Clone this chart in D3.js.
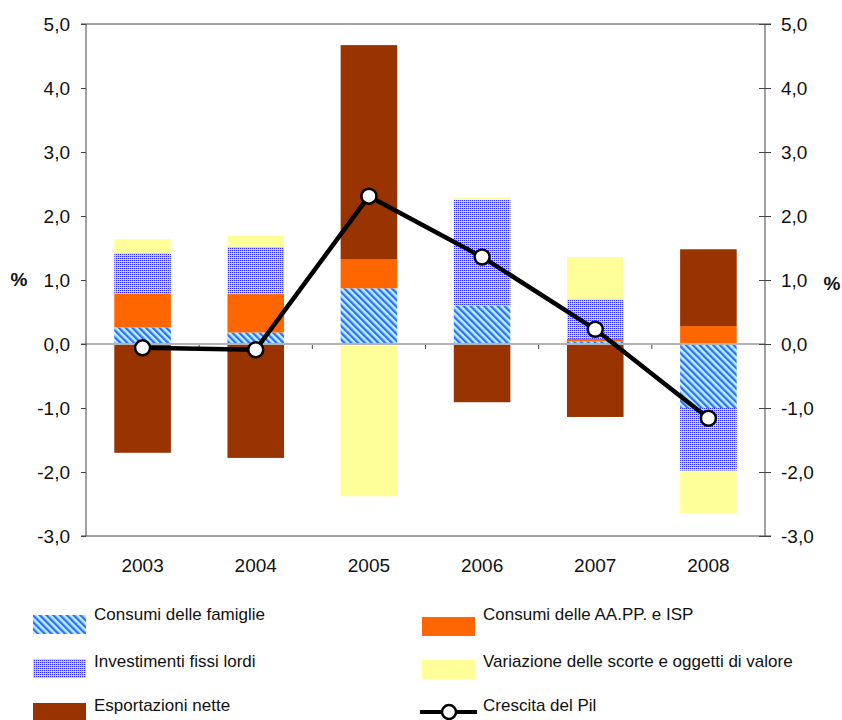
<!DOCTYPE html>
<html><head><meta charset="utf-8">
<script src="https://cdn.jsdelivr.net/npm/d3@7"></script>
<style>body{margin:0;background:#fff}svg{display:block;font-family:Arial,"Liberation Sans",sans-serif}</style>
</head><body>
<svg id="c" width="842" height="720"></svg>
<script>
const years = ["2003","2004","2005","2006","2007","2008"];
const famiglie = [0.26, 0.18, 0.87, 0.60, 0.04, -1.00];
const aapp = [0.53, 0.60, 0.45, 0.00, 0.04, 0.28];
const investimenti = [0.63, 0.74, -0.02, 1.65, 0.62, -0.98];
const scorte = [0.22, 0.17, -2.36, 0.04, 0.66, -0.67];
const esportazioni = [-1.70, -1.78, 3.35, -0.91, -1.14, 1.20];
const pil = [-0.06, -0.09, 2.31, 1.36, 0.23, -1.16];
const yTicks = [-3, -2, -1, 0, 1, 2, 3, 4, 5];
const seriesNames = ["Consumi delle famiglie","Consumi delle AA.PP. e ISP","Investimenti fissi lordi","Variazione delle scorte e oggetti di valore","Esportazioni nette"];
const pilName = "Crescita del Pil";

const svg = d3.select("#c");
const L = 86, R = 765, T = 24, B = 536;
const x = d3.scaleBand().domain(years).range([L, R]).paddingInner(0.5).paddingOuter(0.25);
const y = d3.scaleLinear().domain([-3, 5]).range([B, T]);
const fmt = v => d3.format(".1f")(v).replace(".", ",").replace("−","-");

const defs = svg.append("defs");
const ph = defs.append("pattern").attr("id","hatch").attr("patternUnits","userSpaceOnUse")
  .attr("width",4.8).attr("height",4.8).attr("patternTransform","rotate(-45)");
ph.append("rect").attr("width",4.8).attr("height",4.8).attr("fill","#b0f2ff");
ph.append("rect").attr("width",2.3).attr("height",4.8).attr("fill","#3a6cf2");
const pd = defs.append("pattern").attr("id","dots").attr("patternUnits","userSpaceOnUse")
  .attr("width",2).attr("height",2);
pd.append("rect").attr("width",2).attr("height",2).attr("fill","#d0d0ff");
pd.append("rect").attr("width",1).attr("height",1).attr("fill","#2a2aff");
const fills = ["url(#hatch)","#ff6600","url(#dots)","#ffff99","#993300"];

const keys = ["f","a","i","s","e"];
const rows = years.map((yr,i)=>({year:yr,f:famiglie[i],a:aapp[i],i:investimenti[i],s:scorte[i],e:esportazioni[i]}));
const stacked = d3.stack().keys(keys).offset(d3.stackOffsetDiverging)(rows);

// frame lines
svg.append("line").attr("x1",L-5).attr("x2",R+6).attr("y1",T).attr("y2",T).attr("stroke","#444").attr("stroke-width",1);
svg.append("line").attr("x1",L-5).attr("x2",R+6).attr("y1",B).attr("y2",B).attr("stroke","#444").attr("stroke-width",1);

// bars
stacked.forEach((s,k)=>{
  svg.append("g").selectAll("rect").data(s).join("rect")
    .attr("x", d=>x(d.data.year)).attr("width", x.bandwidth())
    .attr("y", d=>y(Math.max(d[0],d[1]))).attr("height", d=>Math.abs(y(d[0])-y(d[1])))
    .attr("fill", fills[k]);
});

// zero line
svg.append("line").attr("x1",L-5).attr("x2",R).attr("y1",y(0)).attr("y2",y(0)).attr("stroke","#b4b4b4").attr("stroke-width",2);
// category boundary ticks on zero line
svg.append("g").selectAll("line").data(years.slice(1)).join("line")
  .attr("x1",(d)=>x(d)-x.bandwidth()*0.5).attr("x2",(d)=>x(d)-x.bandwidth()*0.5)
  .attr("y1",y(0)+1).attr("y2",y(0)+5).attr("stroke","#444");

// axes
const gl = svg.append("g").attr("transform",`translate(${L},0)`)
  .call(d3.axisLeft(y).tickValues(yTicks).tickFormat(fmt).tickSize(5).tickPadding(11));
const gr = svg.append("g").attr("transform",`translate(${R},0)`)
  .call(d3.axisRight(y).tickValues(yTicks).tickFormat(fmt).tickSize(6).tickPadding(10));
gr.selectAll(".tick line").attr("x1",-6);
[gl,gr].forEach(g=>{
  g.select(".domain").attr("stroke","#444").attr("d", `M0,${T}V${B}`);
  g.selectAll(".tick line").attr("stroke","#444");
  g.selectAll(".tick text").attr("font-size",19).attr("fill","#111").attr("font-family","Arial, 'Liberation Sans', sans-serif");
});

// x labels
svg.append("g").selectAll("text").data(years).join("text")
  .attr("x", d=>x(d)+x.bandwidth()/2).attr("y", 572).attr("text-anchor","middle")
  .attr("font-size",19).attr("fill","#111").text(d=>d);

// % labels
svg.append("text").attr("x",19).attr("y",y(1)+6).attr("text-anchor","middle").attr("font-size",19).attr("font-weight","bold").attr("fill","#111").text("%");
svg.append("text").attr("x",832).attr("y",y(1)+10).attr("text-anchor","middle").attr("font-size",19).attr("font-weight","bold").attr("fill","#111").text("%");

// line
const cx = d=>x(d)+x.bandwidth()/2;
svg.append("path").datum(pil.map((v,i)=>[cx(years[i]),y(v)]))
  .attr("d", d3.line()).attr("fill","none").attr("stroke","#000").attr("stroke-width",4.5).attr("stroke-linejoin","round");
svg.append("g").selectAll("circle").data(pil).join("circle")
  .attr("cx",(d,i)=>cx(years[i])).attr("cy",d=>y(d)).attr("r",7.5)
  .attr("fill","#fff").attr("stroke","#000").attr("stroke-width",2.5);

// legend
const legPos = [[33,615,94,614],[422,617,483,614],[33,659,94,661],[422,660,483,661],[33,703,94,705]];
[0,1,2,3,4].forEach((k,j)=>{
  const p = legPos[j];
  svg.append("rect").attr("x",p[0]).attr("y",p[1]).attr("width",53).attr("height",19).attr("fill",fills[k]);
  svg.append("text").attr("x",p[2]).attr("y",p[3]+6).attr("font-size",17).attr("fill","#111").text(seriesNames[k]);
});
svg.append("line").attr("x1",420).attr("x2",477).attr("y1",712).attr("y2",712).attr("stroke","#000").attr("stroke-width",4);
svg.append("circle").attr("cx",449).attr("cy",712).attr("r",7).attr("fill","#fff").attr("stroke","#000").attr("stroke-width",2.5);
svg.append("text").attr("x",483).attr("y",711).attr("font-size",17).attr("fill","#111").text(pilName);
</script>
</body></html>
